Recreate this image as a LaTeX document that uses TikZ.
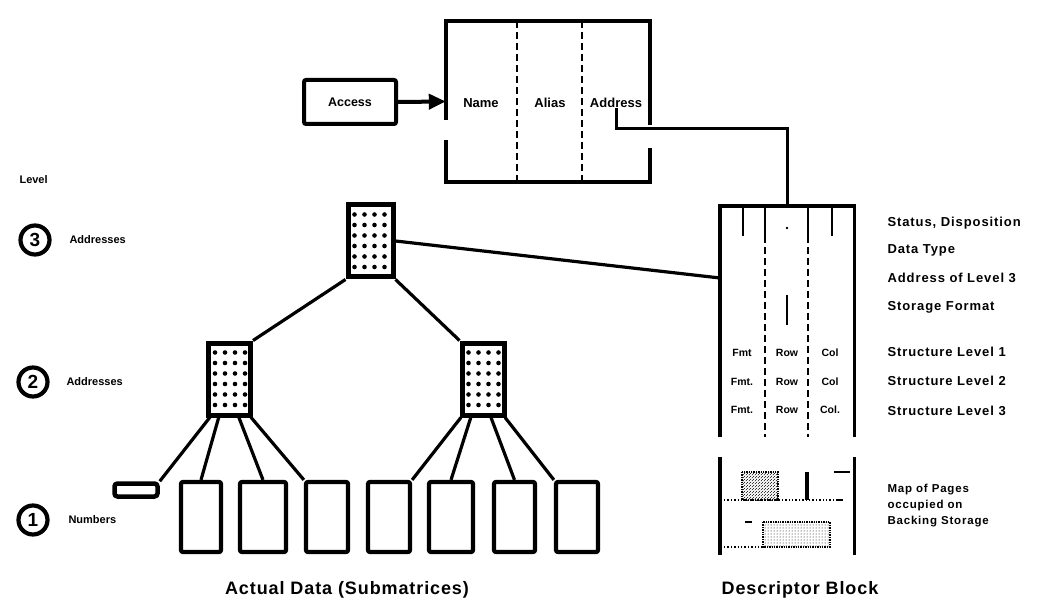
\documentclass[tikz,border=0pt]{standalone}
\usepackage{fontspec}
\setmainfont{Liberation Sans}
\newfontfamily\labfont[LetterSpace=7]{Liberation Sans}
\newfontfamily\titlefont[LetterSpace=5]{Liberation Sans}
\usetikzlibrary{calc,patterns,arrows.meta}

\begin{document}
\begin{tikzpicture}[x=1pt,y=-1pt,
  frame/.style={line width=3.6pt},
  branch/.style={line width=3.2pt},
  conn/.style={line width=3pt},
  divider/.style={line width=1.6pt, dash pattern=on 7pt off 4pt},
  leaf/.style={draw, line width=4.2pt, rounded corners=2pt, minimum width=42pt,
    minimum height=70pt, inner sep=0pt},
  index/.style={draw, line width=5pt, minimum width=42pt, minimum height=72pt,
    inner sep=0pt,
    path picture={
      \foreach \i in {0,...,3}{\foreach \j in {0,...,5}{
        \fill ($(path picture bounding box.north west)+(6.5pt+\i*10pt,-9.5pt-\j*10.5pt)$)
          circle (2.3pt);}}}},
  levelmark/.style={draw, circle, line width=4.2pt, minimum size=29pt, inner sep=0pt,
    font=\bfseries\fontsize{19}{19}\selectfont},
  levellab/.style={anchor=west, font=\bfseries\fontsize{11}{12}\selectfont},
  rlab/.style={anchor=west, font=\labfont\bfseries\fontsize{13}{14}\selectfont},
  maplab/.style={anchor=west, font=\labfont\bfseries\fontsize{11.5}{12}\selectfont},
  cell/.style={font=\bfseries\fontsize{13}{14}\selectfont, inner sep=0pt},
  small/.style={font=\bfseries\fontsize{10.5}{11}\selectfont, inner sep=0pt},
  title/.style={font=\titlefont\bfseries\fontsize{18}{20}\selectfont}
]
\useasboundingbox (0,0) rectangle (1044,612);

% ---- directory table with entry point ----
\node (access) [draw, line width=4pt, rounded corners=2pt, minimum width=92pt,
  minimum height=44pt, font=\bfseries\fontsize{12.5}{13}\selectfont] at (350,102) {Access};
\node (dir) [minimum width=204pt, minimum height=161pt, inner sep=0pt] at (548,101.5) {};
\draw[frame] (446,120) -- (446,21) -- (650,21) -- (650,125);
\draw[frame] (446,140) -- (446,182) -- (650,182) -- (650,148);
\draw[divider] (517,21) -- (517,182);
\draw[divider] (582,21) -- (582,182);
\node (name)  [cell] at (481,103) {Name};
\node (alias) [cell] at (550,103) {Alias};
\node (addr)  [cell] at (616,103) {Address};
\draw[line width=4pt, -{Triangle[length=17pt,width=15pt]}] (access.east) -- (dir.west);

% ---- level key ----
\node (lvl) [levellab] at (16,180) {Level};
\node (c3) [levelmark] at (35,240) {3};
\node (c2) [levelmark] at (33,382) {2};
\node (c1) [levelmark] at (33,520) {1};
\node (l3) [levellab] at (66,240) {Addresses};
\node (l2) [levellab] at (63,382) {Addresses};
\node (l1) [levellab] at (65,520) {Numbers};

% ---- tree of submatrices ----
\node (root) [index, minimum width=45pt] at (370.5,241) {};
\node (ml) [index] at (229.5,379) {};
\node (mr) [index] at (483,379) {};
\node (stub) [draw, line width=4.5pt, rounded corners=3pt, minimum width=43pt,
  minimum height=13pt, inner sep=0pt] at (136,490) {};
\node (f1) [leaf, minimum width=40pt] at (201,517) {};
\node (f2) [leaf, minimum width=46pt] at (263,517) {};
\node (f3) [leaf] at (327,517) {};
\node (f4) [leaf] at (389,517) {};
\node (f5) [leaf, minimum width=44pt] at (451,517) {};
\node (f6) [leaf, minimum width=41pt] at (514.5,517) {};
\node (f7) [leaf] at (577,517) {};

\draw[branch] (root.south west) -- (ml.north east);
\draw[branch] (root.south east) -- (mr.north west);
\draw[branch] ($(ml.south west)!0.08!(ml.south east)$) -- (stub.north east);
\draw[branch] ($(ml.south west)!0.27!(ml.south east)$) -- (f1.north);
\draw[branch] ($(ml.south west)!0.70!(ml.south east)$) -- (f2.north);
\draw[branch] ($(ml.south west)!0.96!(ml.south east)$) -- (f3.north west);
\draw[branch] ($(mr.south west)!0.03!(mr.south east)$) -- (f4.north east);
\draw[branch] ($(mr.south west)!0.24!(mr.south east)$) -- (f5.north);
\draw[branch] ($(mr.south west)!0.67!(mr.south east)$) -- (f6.north);
\draw[branch] ($(mr.south west)!0.97!(mr.south east)$) -- (f7.north west);

\node (tdata) [title] at (347,590) {Actual Data (Submatrices)};

% ---- descriptor block ----
\node (desc) [minimum width=134pt, minimum height=231pt, inner sep=0pt,
  anchor=north west] at (720,206) {};
\draw[frame] (desc.south west) -- (desc.north west) -- (desc.north east) -- (desc.south east);
\coordinate (dtop) at (787,206);
\coordinate (dentry) at (720,278);
\draw[conn] (addr.south) -- ++(0,21) -| (dtop);
\draw[branch] (root.east) -- (dentry);

\foreach \x in {743,832} \draw[line width=2.6pt] (\x,206) -- (\x,236);
\foreach \x in {765,808} {
  \draw[line width=2pt] (\x,206) -- (\x,236);
  \draw[divider] (\x,236) -- (\x,437);
}
\fill (787,228) circle (1.4pt);
\draw[line width=2.4pt] (787,295) -- (787,325);

\foreach \y/\f/\c [count=\k] in {353/Fmt/Col, 382/Fmt./Col, 410/Fmt./Col.} {
  \node (fmt\k) [small] at (742,\y) {\f};
  \node (row\k) [small] at (787,\y) {Row};
  \node (col\k) [small] at (830,\y) {\c};
}

\node (s1) [rlab] at (884,223) {Status, Disposition};
\node (s2) [rlab] at (884,250) {Data Type};
\node (s3) [rlab] at (884,278) {Address of Level 3};
\node (s4) [rlab] at (884,307) {Storage Format};
\node (s5) [rlab] at (884,352) {Structure Level 1};
\node (s6) [rlab] at (884,381) {Structure Level 2};
\node (s7) [rlab] at (884,411) {Structure Level 3};

% ---- page map ----
\node (pmap) [minimum width=134pt, minimum height=98pt, inner sep=0pt,
  anchor=north west] at (720,457) {};
\draw[frame] (pmap.north west) -- (pmap.south west);
\draw[frame] (pmap.north east) -- (pmap.south east);
\draw[line width=1.4pt, densely dotted, pattern=north east lines] (742,472) rectangle (778,500);
\draw[line width=3.4pt] (807,472) -- (807,500);
\draw[line width=1.2pt] (834,472) -- (850,472);
\draw[line width=1.4pt, dotted] (724,500) -- (838,500);
\draw[line width=2pt] (836,500) -- (843,500);
\draw[line width=1.4pt, densely dotted, pattern=dots] (763,522) rectangle (830,547);
\draw[line width=1.4pt, dotted] (724,547) -- (763,547);
\draw[line width=2pt] (745,522) -- (752,522);

\node (m1) [maplab] at (884,490) {Map of Pages};
\node (m2) [maplab] at (884,506) {occupied on};
\node (m3) [maplab] at (884,522) {Backing Storage};

\node (tdesc) [title] at (800,590) {Descriptor Block};
\end{tikzpicture}
\end{document}
